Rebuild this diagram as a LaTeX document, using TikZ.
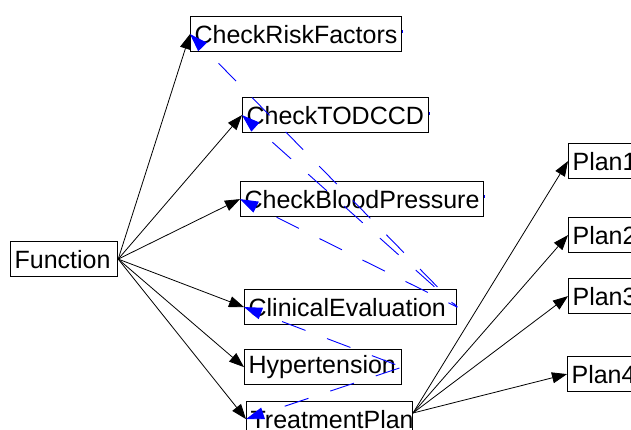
\documentclass[tikz,border=0pt]{standalone}
\usepackage{fontspec}
\setmainfont{Liberation Sans}
\usetikzlibrary{arrows.meta}
\tikzset{
  box/.style={draw, line width=1.2pt, fill=white, anchor=north west, inner ysep=0pt, inner xsep=4pt,
    minimum height=35pt, align=left, font=\fontsize{25}{25}\selectfont},
  call/.style={black, line width=0.8pt, -{Triangle[length=15pt,width=11pt]}},
  dep/.style={blue, line width=0.9pt, dash pattern=on 25pt off 23pt, dash phase=25pt,
    {Triangle[length=18pt,width=12pt]}-},
  tick/.style={blue, line width=1.2pt}
}
\begin{document}
\begin{tikzpicture}[x=1pt,y=-1pt]
\useasboundingbox (0,0) rectangle (631,430);
\clip (0,0) rectangle (631,430);
% nodes
\node[box, text width=99pt]  (fn)  at (10,241)  {Function};
\node[box, text width=203pt] (crf) at (190,16)  {CheckRiskFactors};
\node[box, text width=178pt] (tod) at (242,97)  {CheckTODCCD};
\node[box, text width=235pt] (cbp) at (240,181) {CheckBloodPressure};
\node[box, text width=204pt] (ce)  at (244,289) {ClinicalEvaluation};
\node[box, text width=149pt] (hyp) at (244,349) {Hypertension};
\node[box, text width=158pt] (tp)  at (246,401) {TreatmentPlan};
\node[box, text width=72pt]  (p1)  at (568,143) {Plan1};
\node[box, text width=72pt]  (p2)  at (568,217) {Plan2};
\node[box, text width=72pt]  (p3)  at (568,278) {Plan3};
\node[box, text width=72pt]  (p4)  at (567,356) {Plan4};
\coordinate (tpo) at (413,413);
% calls
\draw[call] (fn.east) -- (crf.west);
\draw[call] (fn.east) -- (tod.west);
\draw[call] (fn.east) -- (cbp.west);
\draw[call] (fn.east) -- (ce.west);
\draw[call] (fn.east) -- (hyp.west);
\draw[call] (fn.east) -- (tp.west);
\draw[call] (tpo) -- (p1.west);
\draw[call] (tpo) -- (p2.west);
\draw[call] (tpo) -- (p3.west);
\draw[call] (tpo) -- (p4.west);
% dependencies
\draw[dep] (crf.west) -- (ce.east);
\draw[dep] (tod.west) -- (ce.east);
\draw[dep] (cbp.west) -- (ce.east);
\draw[dep] (ce.west) -- (hyp.east);
\draw[dep] (tp.west) -- (hyp.east);
% small port marks
\draw[tick] ([yshift=4pt]crf.east) -- ([yshift=1pt]crf.east);
\draw[tick] ([yshift=3pt]tod.east) -- ([yshift=0pt]tod.east);
\draw[tick] ([yshift=4pt]cbp.east) -- ([yshift=1pt]cbp.east);
\end{tikzpicture}
\end{document}
